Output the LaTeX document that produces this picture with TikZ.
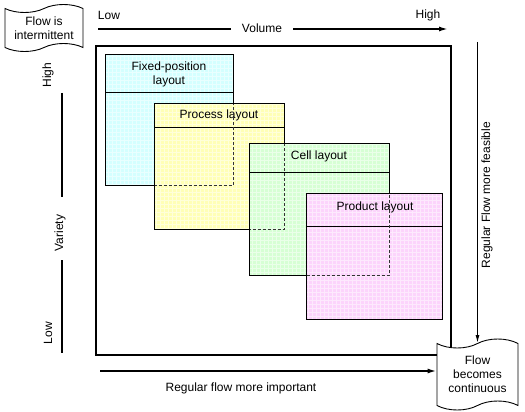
\documentclass[tikz,border=0pt]{standalone}
\usepackage{fontspec}
\setmainfont{Liberation Sans}
\usetikzlibrary{shapes.symbols,arrows.meta}

\definecolor{fixcol}{RGB}{212,255,255}
\definecolor{proccol}{RGB}{255,255,182}
\definecolor{cellcol}{RGB}{214,255,212}
\definecolor{prodcol}{RGB}{252,212,252}

\tikzset{
  every node/.style={font=\fontsize{12}{14}\selectfont},
  axis/.style={line width=1.6pt},
  axisarrow/.style={axis, -{Latex[length=9pt,width=5pt]}},
  layout/.style={anchor=north west, inner sep=0pt},
  border/.style={line width=0.8pt},
  hidden/.style={line width=0.7pt, dash pattern=on 3pt off 2pt, black!80},
  gridline/.style={step=4pt, white, line width=0.5pt, opacity=0.5},
  flowbox/.style={tape, draw, fill=white, line width=0.9pt, align=center, inner sep=1pt, tape bend height=8pt},
}

\begin{document}
\begin{tikzpicture}[x=1pt, y=-1pt]
  \useasboundingbox (0,0) rectangle (525,412);

  % Frame
  \node[draw, line width=2.4pt, anchor=north west, minimum width=355pt, minimum height=309pt] (M) at (95,45) {};

  % Layout boxes
  \node[layout, fill=fixcol, minimum width=128pt, minimum height=131pt] (F) at (105,54) {};
  \draw[gridline] (F.north west) grid (F.south east);
  \draw[border] (F.north west) rectangle (F.south east);
  \draw[border] (F.west |- 0,92) -- (F.east |- 0,92);
  \node[align=center] (Ft) at (169,74) {Fixed-position\\layout};

  \node[layout, fill=proccol, minimum width=130pt, minimum height=126pt] (P) at (154,103) {};
  \draw[gridline] (P.north west) grid (P.south east);
  \draw[border] (P.north west) rectangle (P.south east);
  \draw[border] (P.west |- 0,127) -- (P.east |- 0,127);
  \node (Pt) at (219,115) {Process layout};

  \node[layout, fill=cellcol, minimum width=140pt, minimum height=132pt] (C) at (249,143) {};
  \draw[gridline] (C.north west) grid (C.south east);
  \draw[border] (C.north west) rectangle (C.south east);
  \draw[border] (C.west |- 0,172) -- (C.east |- 0,172);
  \node (Ct) at (319,156) {Cell layout};

  \node[layout, fill=prodcol, minimum width=136pt, minimum height=126pt] (R) at (306,193) {};
  \draw[gridline] (R.north west) grid (R.south east);
  \draw[border] (R.north west) rectangle (R.south east);
  \draw[border] (R.west |- 0,226) -- (R.east |- 0,226);
  \node (Rt) at (375,207) {Product layout};

  % Hidden edges, only inside the box on top
  \begin{scope}
    \clip ([shift={(1pt,-1pt)}]P.north west) rectangle ([shift={(-1pt,1pt)}]P.south east);
    \draw[hidden] (F.north west) rectangle (F.south east);
  \end{scope}
  \begin{scope}
    \clip ([shift={(1pt,-1pt)}]C.north west) rectangle ([shift={(-1pt,1pt)}]C.south east);
    \draw[hidden] (P.north west) rectangle (P.south east);
  \end{scope}
  \begin{scope}
    \clip ([shift={(1pt,-1pt)}]R.north west) rectangle ([shift={(-1pt,1pt)}]R.south east);
    \draw[hidden] (C.north west) rectangle (C.south east);
  \end{scope}

  % Flow boxes
  \node[flowbox, minimum width=78pt, minimum height=47pt] (I) at (44,28) {Flow is\\intermittent};
  \node[flowbox, minimum width=81pt, minimum height=71pt, tape bend height=9pt] (K) at (477.5,374.5) {Flow\\becomes\\continuous};

  % Volume
  \node (vlow) at (109,15) {Low};
  \node (vhigh) at (428,15) {High};
  \node[inner xsep=11pt] (V) at (262,28) {Volume};
  \coordinate (v0) at (98,29);
  \coordinate (v1) at (448,29);
  \draw[axis] (v0) -- (v0 -| V.west);
  \draw[axisarrow] (v0 -| V.east) -- (v1);

  % Variety
  \node[rotate=90] (hhigh) at (48,75) {High};
  \node[rotate=90] (hlow) at (48,333) {Low};
  \node[rotate=90] (H) at (60,233) {Variety};
  \coordinate (h0) at (62,93);
  \coordinate (h1) at (62,197);
  \coordinate (h2) at (62,260);
  \coordinate (h3) at (62,353);
  \draw[axis] (h0) -- (h1);
  \draw[axis] (h2) -- (h3);

  % Regular flow
  \coordinate (r0) at (477.5,42);
  \draw[line width=1.2pt, -{Latex[length=8pt,width=4pt]}] (r0) -- (K.north);
  \node[rotate=90] (Rf) at (487,195) {Regular Flow more feasible};
  \coordinate (b0) at (100,371);
  \draw[axisarrow] (b0) -- (b0 -| K.west);
  \node (Bf) at (241,388) {Regular flow more important};
\end{tikzpicture}
\end{document}
